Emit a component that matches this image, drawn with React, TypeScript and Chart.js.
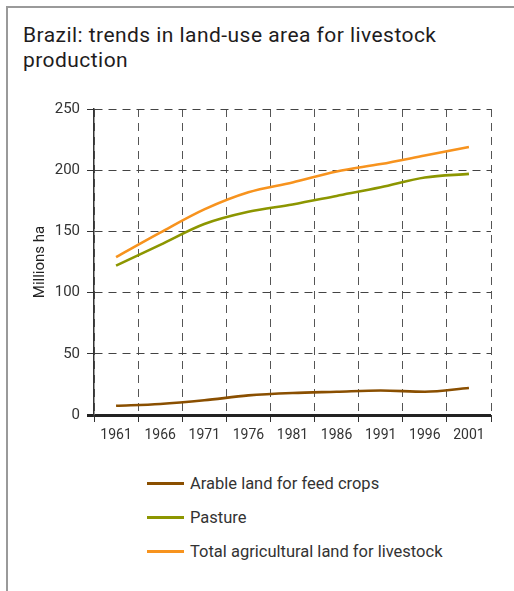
import React, { useEffect, useRef } from "react";
import { Chart, registerables } from "chart.js";

Chart.register(...registerables);

const years = ["1961", "1966", "1971", "1976", "1981", "1986", "1991", "1996", "2001"];
const arable = [7.5, 9, 12, 16, 18, 19, 20, 19, 22];
const pasture = [122, 139, 156, 166, 172, 179, 186, 194, 197];
const total = [129, 149, 168, 182, 190, 199, 205, 212, 219];

const seriesNames = ["Arable land for feed crops", "Pasture", "Total agricultural land for livestock"];
const seriesColors = ["#8a4f00", "#8c9600", "#f7931e"];

const FONT = "Roboto, 'Noto Sans', sans-serif";

export default function App() {
  const ref = useRef<HTMLCanvasElement | null>(null);

  useEffect(() => {
    if (!ref.current) return;
    const chart = new Chart(ref.current, {
      type: "line",
      data: {
        labels: years,
        datasets: [arable, pasture, total].map((d, i) => ({
          label: seriesNames[i],
          data: d,
          borderColor: seriesColors[i],
          backgroundColor: seriesColors[i],
          borderWidth: 2.6,
          pointRadius: 0,
          cubicInterpolationMode: "monotone" as const,
        })),
      },
      options: {
        animation: false,
        responsive: false,
        maintainAspectRatio: false,
        layout: { padding: { left: 30, top: 109, right: 23, bottom: 5 } },
        plugins: { legend: { display: false }, tooltip: { enabled: false } },
        scales: {
          x: {
            type: "category",
            offset: true,
            afterFit: (s: any) => {
              s.height = 35;
            },
            grid: {
              offset: true,
              color: "#555",
              lineWidth: 1,
              tickLength: 7,
              tickColor: "#333",
              tickWidth: 1,
              tickBorderDash: [],
            },
            border: { display: false, dash: [8, 6] },
            ticks: {
              color: "#333",
              font: { family: FONT, size: 14 },
              padding: 5,
              maxRotation: 0,
              autoSkip: false,
            },
          },
          y: {
            min: 0,
            max: 250,
            afterFit: (s: any) => {
              s.width = 64;
            },
            ticks: {
              stepSize: 50,
              color: "#333",
              font: { family: FONT, size: 15 },
              padding: 7,
            },
            grid: {
              color: (c: any) => (c.tick && c.tick.value === 0 ? "#222" : "#444"),
              lineWidth: (c: any) => (c.tick && c.tick.value === 0 ? 3 : 1),
              tickLength: 7,
              tickColor: (c: any) => (c.tick && c.tick.value === 0 ? "#222" : "#333"),
              tickWidth: (c: any) => (c.tick && c.tick.value === 0 ? 3 : 1),
              tickBorderDash: [],
            },
            border: {
              display: true,
              color: "#333",
              width: 1.5,
              dash: (c: any) => (c.tick && c.tick.value === 0 ? [] : [8, 6]),
            },
            title: {
              display: true,
              text: "Millions ha",
              color: "#222",
              font: { family: FONT, size: 15 },
              padding: { top: 1, bottom: 0 },
            },
          },
        },
      },
    });
    return () => chart.destroy();
  }, []);

  return (
    <div style={{ position: "absolute", left: 0, top: 0, width: 514, height: 591, overflow: "hidden", background: "#fff" }}>
      <div
        style={{
          position: "absolute",
          left: 6,
          top: 6,
          width: 600,
          height: 700,
          borderLeft: "2px solid #9a9a9a",
          borderTop: "2px solid #9a9a9a",
        }}
      />
      <div
        style={{
          position: "absolute",
          left: 23,
          top: 23,
          width: 480,
          fontFamily: FONT,
          fontSize: 21,
          fontWeight: 400,
          letterSpacing: "0.45px",
          lineHeight: "25px",
          color: "#1e1c1d",
        }}
      >
        Brazil: trends in land-use area for livestock production
      </div>
      <canvas ref={ref} width={514} height={455} style={{ position: "absolute", left: 0, top: 0, width: 514, height: 455 }} />
      {seriesNames.map((n, i) => (
        <div key={n} style={{ position: "absolute", left: 147, top: 473 + i * 34, height: 20, display: "flex", alignItems: "center" }}>
          <div style={{ width: 37, height: 3, background: seriesColors[i] }} />
          <span style={{ marginLeft: 6, fontFamily: FONT, fontSize: 16.5, color: "#333" }}>{n}</span>
        </div>
      ))}
    </div>
  );
}
